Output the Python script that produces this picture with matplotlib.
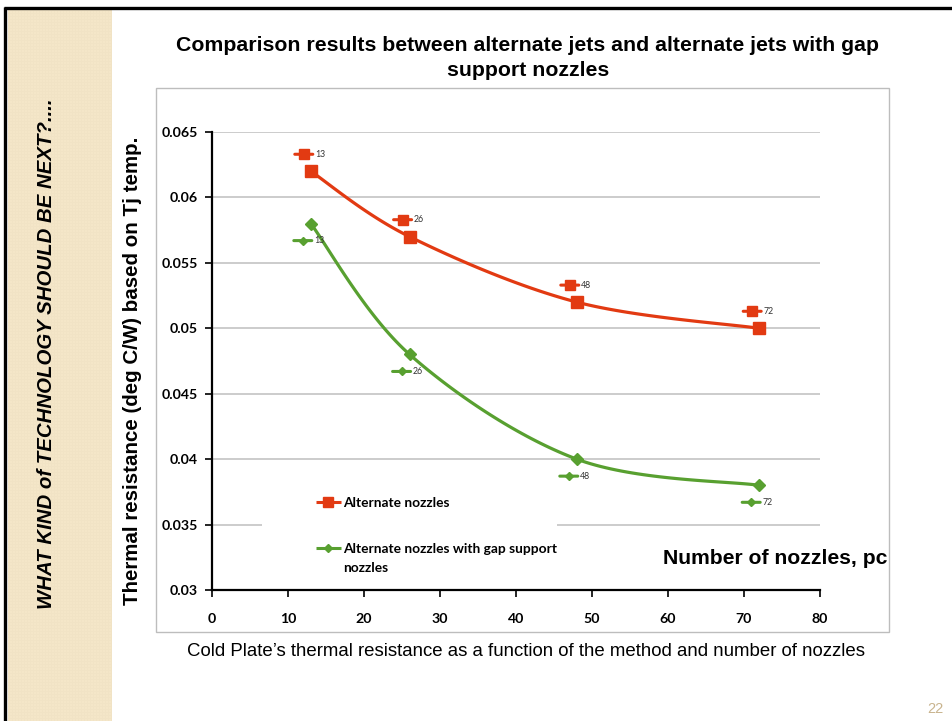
import numpy as np
import matplotlib
matplotlib.use("Agg")
import matplotlib.pyplot as plt
from matplotlib.patches import Rectangle
from matplotlib.transforms import offset_copy

# ---- data ----
nozzles = [13, 26, 48, 72]
alternate = [0.062, 0.057, 0.052, 0.050]
alternate_gap = [0.058, 0.048, 0.040, 0.038]
series_labels = ["Alternate nozzles", "Alternate nozzles with gap support\nnozzles"]
x_ticks = [0, 10, 20, 30, 40, 50, 60, 70, 80]
y_ticks = [0.03, 0.035, 0.04, 0.045, 0.05, 0.055, 0.06, 0.065]
y_tick_labels = ["0.03", "0.035", "0.04", "0.045", "0.05", "0.055", "0.06", "0.065"]

RED = "#E23A12"
GREEN = "#58A030"
W, H = 953, 721

fig = plt.figure(figsize=(W / 100, H / 100), dpi=100)
fig.patch.set_facecolor("white")

# ---- slide background (pixel coordinates) ----
bg = fig.add_axes([0, 0, 1, 1], zorder=-2)
bg.set_xlim(0, W)
bg.set_ylim(H, 0)
bg.axis("off")

# textured beige side stripe
sx0, sx1, sy0, sy1 = 8, 112, 10, H
yy, xx = np.mgrid[0:(sy1 - sy0), 0:(sx1 - sx0)]
chk = (((xx + yy) // 3 + (xx - yy) // 3) % 2).astype(float)
base = np.array([243, 229, 199]) / 255.0
tex = base[None, None, :] + (chk[..., None] - 0.5) * 0.014
bg.imshow(np.clip(tex, 0, 1), extent=(sx0, sx1, sy1, sy0), aspect="auto",
          interpolation="nearest", zorder=0)
bg.set_xlim(0, W)
bg.set_ylim(H, 0)

# black slide frame lines (top and left)
bg.plot([4, W], [7.5, 7.5], color="black", lw=2.4, solid_capstyle="butt", zorder=2)
bg.plot([5.5, 5.5], [6.5, H], color="black", lw=2.4, solid_capstyle="butt", zorder=2)

# chart area frame
bg.add_patch(Rectangle((156, 88), 733, 544, facecolor="white",
                       edgecolor="#BDBDBD", lw=1.0, zorder=1))

# vertical slide heading
bg.text(47, 354, "WHAT KIND of TECHNOLOGY SHOULD BE NEXT?....", rotation=90,
        ha="center", va="center", fontsize=14.7, fontweight="bold",
        fontstyle="italic", family="Liberation Sans", color="black", zorder=3)

# chart title
bg.text(528, 58, "Comparison results between alternate jets and alternate jets with gap\nsupport nozzles",
        ha="center", va="center", fontsize=15.3, fontweight="bold",
        family="Liberation Sans", linespacing=1.42, zorder=3)

# y-axis title
bg.text(133, 371, "Thermal resistance (deg C/W) based on Tj temp.", rotation=90,
        ha="center", va="center", fontsize=14.8, fontweight="bold",
        family="Liberation Sans", zorder=3)

# caption and page number
bg.text(526, 651, "Cold Plate\u2019s thermal resistance as a function of the method and number of nozzles",
        ha="center", va="center", fontsize=13.4, family="Liberation Sans", zorder=3)
bg.text(935, 709, "22", ha="center", va="center", fontsize=10.5,
        family="Liberation Sans", color="#C9B48E", zorder=3)

# ---- main chart ----
ax = fig.add_axes([212 / W, 1 - 590 / H, (820 - 212) / W, (590 - 132) / H], zorder=1)
ax.patch.set_alpha(0)
ax.set_xlim(0, 80)
ax.set_ylim(0.03, 0.065)
for s in ("top", "right"):
    ax.spines[s].set_visible(False)
for s in ("left", "bottom"):
    ax.spines[s].set_linewidth(1.6)
    ax.spines[s].set_color("black")
ax.set_xticks(x_ticks)
ax.set_xticklabels([str(v) for v in x_ticks])
ax.set_yticks(y_ticks)
ax.set_yticklabels(y_tick_labels)
ax.tick_params(axis="x", direction="out", length=5, width=1.2, pad=11.5,
               labelsize=10.2)
ax.tick_params(axis="y", direction="out", length=5, width=1.2, pad=5,
               labelsize=10.2)
for lab in ax.get_xticklabels() + ax.get_yticklabels():
    lab.set_fontweight("bold")
    lab.set_family("Lato")
ax.yaxis.grid(True, color="#C8C8C8", lw=1.3)
ax.set_axisbelow(True)


def smooth_curve(xs, ys, n=40):
    """Catmull-Rom style Bezier through the given points."""
    p = np.column_stack([xs, ys]).astype(float)
    p_ext = np.vstack([p[0], p, p[-1]])
    out = []
    t = np.linspace(0, 1, n)[:, None]
    for i in range(1, len(p_ext) - 2):
        p0, p1, p2, p3 = p_ext[i - 1], p_ext[i], p_ext[i + 1], p_ext[i + 2]
        c1 = p1 + (p2 - p0) / 6.0
        c2 = p2 - (p3 - p1) / 6.0
        seg = ((1 - t) ** 3) * p1 + 3 * ((1 - t) ** 2) * t * c1 \
            + 3 * (1 - t) * t ** 2 * c2 + t ** 3 * p2
        out.append(seg if i == 1 else seg[1:])
    c = np.vstack(out)
    return c[:, 0], c[:, 1]


cx, cy = smooth_curve(nozzles, alternate)
ax.plot(cx, cy, color=RED, lw=2.3, zorder=3, solid_capstyle="round")
ax.plot(nozzles, alternate, ls="none", marker="s", ms=8, color=RED, zorder=4)

gx, gy = smooth_curve(nozzles, alternate_gap)
ax.plot(gx, gy, color=GREEN, lw=2.3, zorder=3, solid_capstyle="round")
ax.plot(nozzles, alternate_gap, ls="none", marker="D", ms=6, color=GREEN, zorder=4)


# data labels with legend keys (value = number of nozzles)
def key_label(xv, yv, dx, dy, color, marker, ms):
    tr_key = offset_copy(ax.transData, fig=fig, x=dx, y=dy, units="dots")
    seg_l = offset_copy(ax.transData, fig=fig, x=dx - 9, y=dy, units="dots")
    seg_r = offset_copy(ax.transData, fig=fig, x=dx + 9, y=dy, units="dots")
    # short key line
    ax.annotate("", xy=(xv, yv), xycoords=seg_r, xytext=(xv, yv), textcoords=seg_l,
                arrowprops=dict(arrowstyle="-", color=color, lw=2.2,
                                shrinkA=0, shrinkB=0), zorder=5)
    ax.plot([xv], [yv], transform=tr_key, marker=marker, ms=ms, color=color,
            ls="none", zorder=6, clip_on=False)
    tr_txt = offset_copy(ax.transData, fig=fig, x=dx + 11, y=dy, units="dots")
    ax.text(xv, yv, str(xv), transform=tr_txt, ha="left", va="center",
            fontsize=6.3, family="Lato", color="#333333", zorder=6)


for xv, yv in zip(nozzles, alternate):
    key_label(xv, yv, -7, 17, RED, "s", 6.5)
for xv, yv in zip(nozzles, alternate_gap):
    key_label(xv, yv, -8, -17, GREEN, "D", 4.5)

# ---- overlay: legend block and x-axis title ----
ov = fig.add_axes([0, 0, 1, 1], zorder=5)
ov.set_xlim(0, W)
ov.set_ylim(H, 0)
ov.axis("off")
ov.add_patch(Rectangle((262, 488), 295, 92, facecolor="white", edgecolor="none"))
for (yk, col, mk, ms), lab in zip([(502, RED, "s", 7), (548, GREEN, "D", 4.5)], series_labels):
    ov.plot([316, 341], [yk, yk], color=col, lw=2.2, solid_capstyle="butt")
    ov.plot([328.5], [yk], marker=mk, ms=ms, color=col)
    ov.text(343, yk - 5, lab, ha="left", va="top", fontsize=9.9,
            fontweight="bold", family="Lato", linespacing=1.65)

ov.text(887, 558, "Number of nozzles, pc", ha="right", va="center",
        fontsize=15.2, fontweight="bold", family="Liberation Sans")

fig.savefig("out.png", dpi=100, facecolor="white")
